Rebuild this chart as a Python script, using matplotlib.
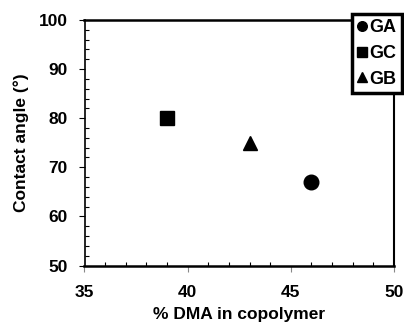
import matplotlib

matplotlib.use("Agg")
import matplotlib.pyplot as plt
from matplotlib.ticker import MultipleLocator

# % DMA in copolymer vs measured contact angle for each sample
samples = ["GA", "GC", "GB"]
dma_pct = [46, 39, 43]
contact_angle = [67, 80, 75]
markers = ["o", "s", "^"]
marker_sizes = [10.5, 10.5, 10]

plt.rcParams.update({
    "font.family": ["Liberation Sans", "DejaVu Sans"],
    "font.weight": "bold",
})

fig = plt.figure(figsize=(4.04, 3.31), dpi=100)
ax = fig.add_axes([84.5 / 404, 1 - 265.5 / 331, (394 - 84.5) / 404, (265.5 - 20) / 331])

for name, x, y, m, ms in zip(samples, dma_pct, contact_angle, markers, marker_sizes):
    ax.plot([x], [y], marker=m, color="black", markersize=ms, linestyle="none", label=name)

ax.set_xlim(35, 50)
ax.set_ylim(50, 100)
ax.xaxis.set_major_locator(MultipleLocator(5))
ax.xaxis.set_minor_locator(MultipleLocator(1))
ax.yaxis.set_major_locator(MultipleLocator(10))
ax.yaxis.set_minor_locator(MultipleLocator(2))

ax.spines["left"].set_linewidth(1.2)
ax.spines["bottom"].set_linewidth(1.8)
ax.spines["top"].set_linewidth(1.8)
ax.spines["right"].set_linewidth(1.5)

ax.tick_params(axis="x", which="major", direction="out", length=4, width=0.8,
               color="#888888", labelsize=12.5, pad=10)
ax.tick_params(axis="x", which="minor", direction="in", length=3, width=0.8)
ax.tick_params(axis="y", which="major", direction="out", length=4, width=0.8, labelsize=12.5, pad=8)
ax.tick_params(axis="y", which="minor", direction="in", length=3, width=0.8)
for lab in ax.get_xticklabels() + ax.get_yticklabels():
    lab.set_fontweight("bold")

ax.set_xlabel("% DMA in copolymer", fontsize=12.5, fontweight="bold", va="center")
ax.set_ylabel("Contact angle (°)", fontsize=12.5, fontweight="bold", va="center")
ax.xaxis.set_label_coords(0.5, -0.2)
ax.yaxis.set_label_coords(-0.205, 0.5)

leg = fig.legend(
    loc="upper left",
    bbox_to_anchor=(352 / 404, 1 - 14 / 331),
    bbox_transform=fig.transFigure,
    frameon=True,
    fancybox=False,
    edgecolor="black",
    markerscale=0.66,
    handlelength=0.55,
    handletextpad=0.12,
    labelspacing=0.48,
    borderpad=0.3,
    borderaxespad=0,
    prop={"weight": "bold", "size": 13},
)
leg.get_frame().set_linewidth(2.5)
leg.get_frame().set_alpha(1)

fig.savefig("out.png", dpi=100)
